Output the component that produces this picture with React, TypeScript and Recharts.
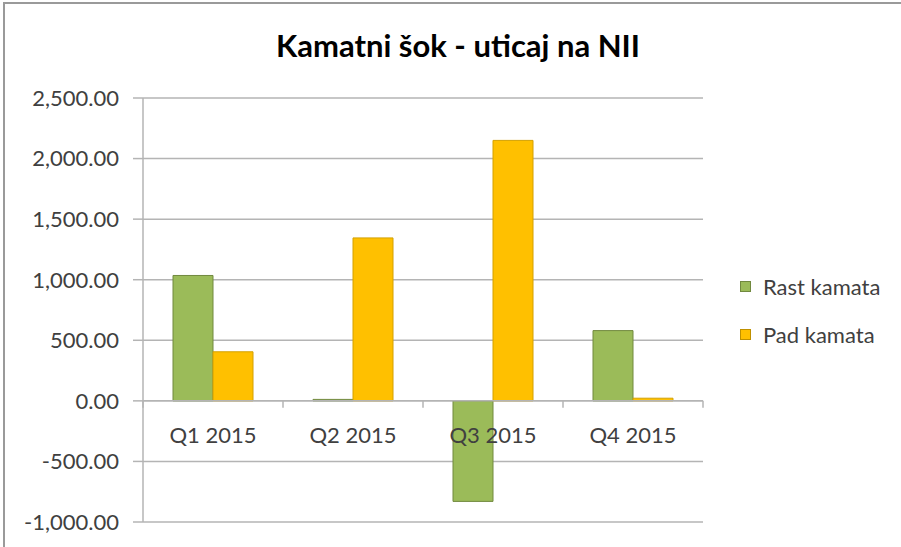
import React from 'react';
import { BarChart, Bar, XAxis, YAxis, CartesianGrid, Legend, ReferenceLine } from 'recharts';

const quarters = ['Q1 2015', 'Q2 2015', 'Q3 2015', 'Q4 2015'];
const rastKamata = [1035, 12, -830, 580];
const padKamata = [405, 1345, 2150, 22];
const yTicks = [-1000, -500, 0, 500, 1000, 1500, 2000, 2500];

const data = quarters.map((q, i) => ({ q, rast: rastKamata[i], pad: padKamata[i] }));

const W = 901;
const H = 547;
const PLOT_TOP = 98;
const PLOT_LEFT = 143;
const PLOT_RIGHT = 703;
const PLOT_BOTTOM = 522;
const Y_MIN = -1000;
const Y_MAX = 2500;
const FONT = 'Lato, "Open Sans", sans-serif';
const AXIS = '#b4b4b4';
const TEXT = '#404040';

const fmt = (v: number) =>
  v.toLocaleString('en-US', { minimumFractionDigits: 2, maximumFractionDigits: 2 });

// x axis sits at the bottom; labels and boundary ticks are drawn at the zero line
const CategoryTick = (props: any) => {
  const { x, payload, index } = props;
  const plotH = PLOT_BOTTOM - PLOT_TOP;
  const zeroY = PLOT_TOP + (plotH * Y_MAX) / (Y_MAX - Y_MIN);
  const band = (PLOT_RIGHT - PLOT_LEFT) / quarters.length;
  return (
    <g>
      <line x1={x - band / 2} x2={x - band / 2} y1={zeroY} y2={zeroY + 7} stroke={AXIS} strokeWidth={1.5} />
      {index === quarters.length - 1 && (
        <line x1={x + band / 2} x2={x + band / 2} y1={zeroY} y2={zeroY + 7} stroke={AXIS} strokeWidth={1.5} />
      )}
      <text x={x} y={zeroY + 42} textAnchor="middle" fill={TEXT} fontSize={22} fontFamily={FONT}>
        {payload.value}
      </text>
    </g>
  );
};

const LegendBox = () => {
  const items = [
    { label: 'Rast kamata', fill: '#9bbb59', stroke: '#71893f' },
    { label: 'Pad kamata', fill: '#ffc000', stroke: '#bf9000' },
  ];
  return (
    <div style={{ fontFamily: FONT, fontSize: 22, color: TEXT }}>
      {items.map((it) => (
        <div key={it.label} style={{ display: 'flex', alignItems: 'center', height: 48 }}>
          <span
            style={{
              display: 'inline-block',
              width: 9,
              height: 9,
              background: it.fill,
              border: `1px solid ${it.stroke}`,
              marginRight: 12,
            }}
          />
          <span>{it.label}</span>
        </div>
      ))}
    </div>
  );
};

export default function App() {
  return (
    <div style={{ position: 'absolute', left: 0, top: 0, width: W, height: H, background: '#fff', overflow: 'hidden' }}>
      <div
        style={{
          position: 'absolute',
          left: 3,
          top: 2,
          width: W + 20,
          height: H + 20,
          border: '2px solid #9a9a9a',
        }}
      />
      <div
        style={{
          position: 'absolute',
          left: 0,
          top: 26,
          width: 916,
          textAlign: 'center',
          fontFamily: FONT,
          fontWeight: 700,
          fontSize: 31,
          color: '#000',
        }}
      >
        Kamatni šok - uticaj na NII
      </div>
      <BarChart
        width={W}
        height={H}
        data={data}
        barGap={0}
        barSize={40}
        margin={{ top: PLOT_TOP, right: W - PLOT_RIGHT, bottom: H - PLOT_BOTTOM - 1, left: 0 }}
      >
        <CartesianGrid vertical={false} stroke={AXIS} strokeWidth={1.5} />
        <XAxis
          dataKey="q"
          height={1}
          axisLine={false}
          tickLine={false}
          interval={0}
          tick={(p: any) => <CategoryTick {...p} />}
        />
        <YAxis
          width={PLOT_LEFT}
          domain={[Y_MIN, Y_MAX]}
          ticks={yTicks}
          tickFormatter={fmt}
          axisLine={{ stroke: AXIS, strokeWidth: 1.5 }}
          tickLine={{ stroke: AXIS, strokeWidth: 1.5 }}
          tickSize={10}
          tickMargin={14}
          tick={{ fill: TEXT, fontSize: 22, fontFamily: FONT }}
        />
        <ReferenceLine y={0} stroke={AXIS} strokeWidth={1.5} />
        <Legend
          layout="vertical"
          align="center"
          verticalAlign="middle"
          content={<LegendBox />}
          wrapperStyle={{ left: 740, top: 262, width: 'auto' }}
        />
        <Bar dataKey="rast" name="Rast kamata" fill="#9bbb59" stroke="#71893f" strokeWidth={1} isAnimationActive={false} />
        <Bar dataKey="pad" name="Pad kamata" fill="#ffc000" stroke="#d4a000" strokeWidth={1} isAnimationActive={false} />
      </BarChart>
    </div>
  );
}
